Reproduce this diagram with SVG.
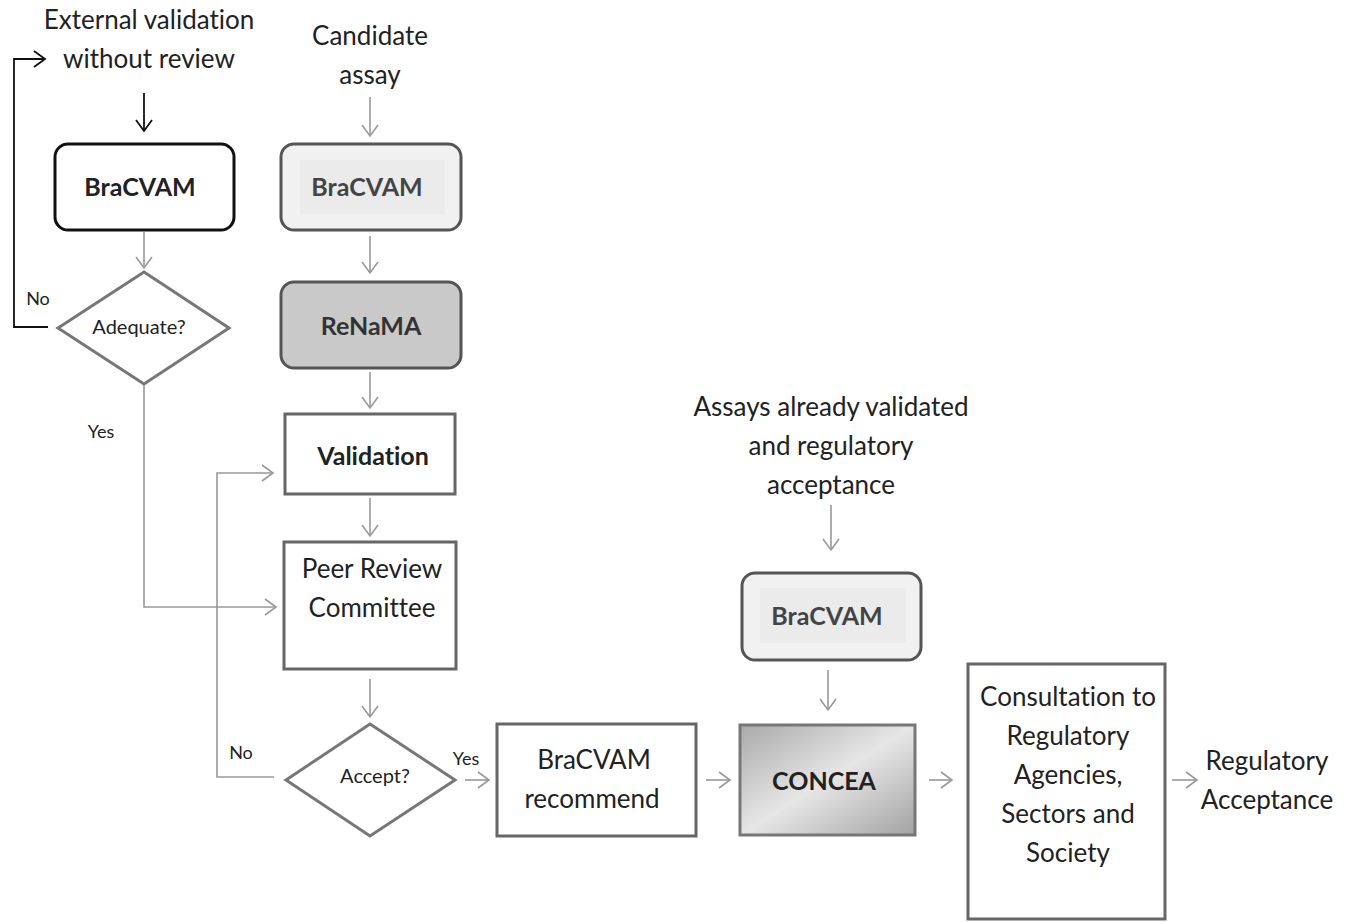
<svg xmlns="http://www.w3.org/2000/svg" width="1345" height="922" viewBox="0 0 1345 922">
<style>
text{font-family:Lato,"Open Sans","Liberation Sans",sans-serif;text-anchor:middle;fill:#222;font-variant-ligatures:none}
.lbl{font-size:26px}
.big{font-size:25px}
.b{font-weight:bold}
.sm{font-size:18px}
.q{font-size:20px}
.g{stroke:#999;stroke-width:1.6;fill:none}
.k{stroke:#111;stroke-width:1.8;fill:none}
.box{stroke:#666;stroke-width:3;fill:#fff}
.dia{stroke:#777;stroke-width:3;fill:#fff}
</style>
<defs>
<marker id="ag" markerUnits="userSpaceOnUse" markerWidth="20" markerHeight="20" refX="0" refY="0" viewBox="-12 -10 14 20" orient="auto"><path d="M-11,-8 L0,0 L-11,8" fill="none" stroke="#999" stroke-width="1.6"/></marker>
<marker id="ak" markerUnits="userSpaceOnUse" markerWidth="20" markerHeight="20" refX="0" refY="0" viewBox="-12 -10 14 20" orient="auto"><path d="M-11,-8 L0,0 L-11,8" fill="none" stroke="#111" stroke-width="1.8"/></marker>
<linearGradient id="gc" x1="0" y1="0" x2="1" y2="1">
<stop offset="0" stop-color="#a9a9a9"/>
<stop offset="0.5" stop-color="#e6e6e6"/>
<stop offset="1" stop-color="#a2a2a2"/>
</linearGradient>
</defs>

<g id="connectors">
<path class="k" d="M48,327 H14 V59 H45" marker-end="url(#ak)"/>
<path class="k" d="M144,93 V131" marker-end="url(#ak)"/>
<path class="g" d="M370,97 V136" marker-end="url(#ag)"/>
<path class="g" d="M144,232 V268" marker-end="url(#ag)"/>
<path class="g" d="M370,236 V273" marker-end="url(#ag)"/>
<path class="g" d="M370,372 V408" marker-end="url(#ag)"/>
<path class="g" d="M370,498 V536" marker-end="url(#ag)"/>
<path class="g" d="M144,384 V607 H276" marker-end="url(#ag)"/>
<path class="g" d="M370,679 V717" marker-end="url(#ag)"/>
<path class="g" d="M274,777 H217 V473 H273" marker-end="url(#ag)"/>
<path class="g" d="M465,780 H489" marker-end="url(#ag)"/>
<path class="g" d="M706,780 H730" marker-end="url(#ag)"/>
<path class="g" d="M929,780 H952" marker-end="url(#ag)"/>
<path class="g" d="M1172,780 H1197" marker-end="url(#ag)"/>
<path class="g" d="M831,505 V550" marker-end="url(#ag)"/>
<path class="g" d="M828,670 V710" marker-end="url(#ag)"/>
<text class="sm" x="38" y="305">No</text>
<text class="sm" x="101" y="438">Yes</text>
<text class="sm" x="241" y="759">No</text>
<text class="sm" x="466" y="765">Yes</text>
</g>

<g id="ext-label">
<text class="lbl" x="149" y="29">External validation</text>
<text class="lbl" x="149" y="68">without review</text>
</g>
<g id="candidate-label">
<text class="lbl" x="370" y="45">Candidate</text>
<text class="lbl" x="370" y="84">assay</text>
</g>
<g id="assays-label">
<text class="lbl" x="831" y="416">Assays already validated</text>
<text class="lbl" x="831" y="455">and regulatory</text>
<text class="lbl" x="831" y="494">acceptance</text>
</g>

<g id="bracvam1">
<rect x="55" y="144" width="179" height="86" rx="13" fill="#fff" stroke="#111" stroke-width="3"/>
<text class="big b" x="140" y="196">BraCVAM</text>
</g>
<g id="adequate">
<polygon class="dia" points="144,272 229,328 144,384 58,328"/>
<text class="q" x="139" y="334">Adequate?</text>
</g>
<g id="bracvam2">
<rect x="281" y="144" width="180" height="86" rx="13" fill="#f1f1f1" stroke="#555" stroke-width="3"/>
<rect x="300" y="160" width="145" height="54" fill="#ebebeb"/>
<text class="big b" x="367" y="196" style="fill:#444">BraCVAM</text>
</g>
<g id="renama">
<rect x="281" y="282" width="180" height="86" rx="13" fill="#c9c9c9" stroke="#555" stroke-width="3"/>
<text class="big b" x="371" y="335" style="fill:#333">ReNaMA</text>
</g>
<g id="validation">
<rect class="box" x="285" y="414" width="170" height="80"/>
<text class="big b" x="373" y="465">Validation</text>
</g>
<g id="peer-review">
<rect class="box" x="284" y="542" width="172" height="127"/>
<text class="lbl" x="372" y="578">Peer Review</text>
<text class="lbl" x="372" y="617">Committee</text>
</g>
<g id="accept">
<polygon class="dia" points="370,724 455,780 370,836 286,780"/>
<text class="q" x="375" y="783">Accept?</text>
</g>
<g id="recommend">
<rect class="box" x="497" y="724" width="199" height="112" stroke="#555"/>
<text class="lbl" x="594" y="769">BraCVAM</text>
<text class="lbl" x="592" y="808">recommend</text>
</g>
<g id="bracvam3">
<rect x="742" y="573" width="179" height="87" rx="13" fill="#f1f1f1" stroke="#555" stroke-width="3"/>
<rect x="760" y="588" width="146" height="55" fill="#ebebeb"/>
<text class="big b" x="827" y="625" style="fill:#444">BraCVAM</text>
</g>
<g id="concea">
<rect x="740" y="725" width="175" height="110" fill="url(#gc)" stroke="#777" stroke-width="3"/>
<text class="big b" x="824" y="790">CONCEA</text>
</g>
<g id="consultation">
<rect class="box" x="968" y="664" width="197" height="255"/>
<text class="lbl" x="1068" y="706">Consultation to</text>
<text class="lbl" x="1068" y="745">Regulatory</text>
<text class="lbl" x="1068" y="784">Agencies,</text>
<text class="lbl" x="1068" y="823">Sectors and</text>
<text class="lbl" x="1068" y="862">Society</text>
</g>
<g id="regulatory-acceptance">
<text class="lbl" x="1267" y="770">Regulatory</text>
<text class="lbl" x="1267" y="809">Acceptance</text>
</g>
</svg>
